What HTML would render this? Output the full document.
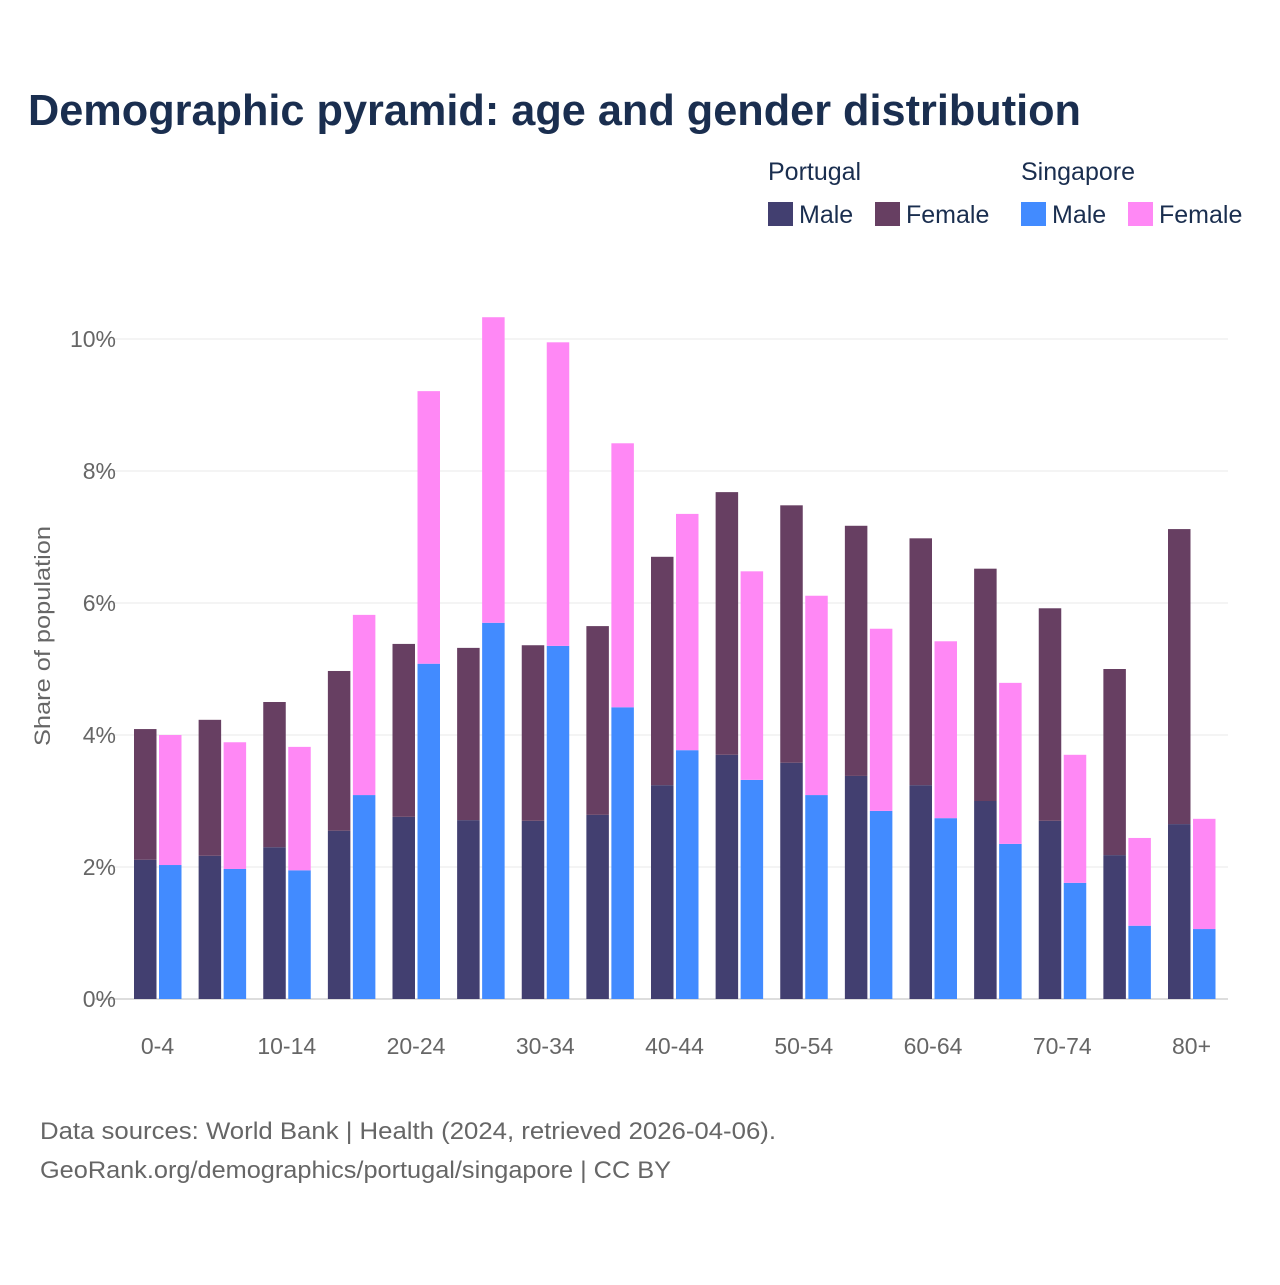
<!DOCTYPE html>
<html><head><meta charset="utf-8"><style>
body{margin:0;background:#fff;font-family:"Liberation Sans",sans-serif}
svg text{font-family:"Liberation Sans",sans-serif}
</style></head><body>
<svg width="1280" height="1280" viewBox="0 0 1280 1280" id="c">
<rect width="1280" height="1280" fill="#fff"/>
<text x="28" y="125" font-size="44" font-weight="bold" fill="#1a2e4f" textLength="1053" lengthAdjust="spacingAndGlyphs">Demographic pyramid: age and gender distribution</text>
<g font-size="25" fill="#1a2e4f">
<text x="768" y="180" fill="#1a2e4f">Portugal</text>
<text x="1021" y="180" fill="#1a2e4f">Singapore</text>
<g><rect x="768" y="202" width="25" height="24" fill="#423f70"/><text x="799" y="223" fill="#1a2e4f">Male</text></g>
<g><rect x="875" y="202" width="25" height="24" fill="#673f62"/><text x="906" y="223" fill="#1a2e4f">Female</text></g>
<g><rect x="1021" y="202" width="25" height="24" fill="#428bff"/><text x="1052" y="223" fill="#1a2e4f">Male</text></g>
<g><rect x="1128" y="202" width="25" height="24" fill="#ff88f5"/><text x="1159" y="223" fill="#1a2e4f">Female</text></g>
</g>
<g id="grid"></g>
<g id="bars"></g>
<g id="xl"></g>
<text transform="translate(50,636) rotate(-90)" text-anchor="middle" font-size="22" fill="#666" textLength="220" lengthAdjust="spacingAndGlyphs">Share of population</text>
<text x="40" y="1139" font-size="24" fill="#666" textLength="736" lengthAdjust="spacingAndGlyphs">Data sources: World Bank | Health (2024, retrieved 2026-04-06).</text>
<text x="40" y="1178" font-size="24" fill="#666" textLength="631" lengthAdjust="spacingAndGlyphs">GeoRank.org/demographics/portugal/singapore | CC BY</text>
</svg>
<script>
const categories=["0-4","5-9","10-14","15-19","20-24","25-29","30-34","35-39","40-44","45-49","50-54","55-59","60-64","65-69","70-74","75-79","80+"];
const ptMale=[2.11,2.17,2.30,2.55,2.76,2.71,2.70,2.79,3.24,3.70,3.58,3.38,3.24,3.00,2.70,2.18,2.65];
const ptFemale=[1.98,2.06,2.20,2.42,2.62,2.61,2.66,2.86,3.46,3.98,3.90,3.79,3.74,3.52,3.22,2.82,4.47];
const sgMale=[2.03,1.97,1.95,3.09,5.08,5.70,5.35,4.42,3.77,3.32,3.09,2.85,2.74,2.35,1.76,1.11,1.06];
const sgFemale=[1.97,1.92,1.87,2.73,4.13,4.63,4.60,4.00,3.58,3.16,3.02,2.76,2.68,2.44,1.94,1.33,1.67];
const yTicks=[0,2,4,6,8,10];
const xLabelIdx=[0,2,4,6,8,10,12,14,16];
const NS="http://www.w3.org/2000/svg";
const y=v=>999-v*66;
const x0=i=>134+i*64.625;
const BW=22.5;
function mk(t,a,p){const e=document.createElementNS(NS,t);for(const k in a)e.setAttribute(k,a[k]);p.appendChild(e);return e;}
const grid=document.getElementById('grid'),bars=document.getElementById('bars'),xl=document.getElementById('xl');
yTicks.forEach(v=>{
  const l=mk('line',{x1:95,x2:1228,y1:y(v),y2:y(v),stroke:v===0?'#ddd':'#e8e8e8','stroke-width':v===0?2:1},grid);
  
  
  const t=mk('text',{x:116,y:y(v)+8,'text-anchor':'end','font-size':23,fill:'#666'},grid);
  t.textContent=v+'%';
  
  
});
function bar(x,v0,v1,fill,name){
  const r=mk('rect',{x:x,y:y(v1),width:BW,height:y(v0)-y(v1),fill:fill},bars);
  
  
}
categories.forEach((c,i)=>{
  const xp=x0(i),xs=xp+BW+2.5;
  bar(xp,0,ptMale[i],'#423f70','bar-portugal-male-'+c);
  bar(xp,ptMale[i],ptMale[i]+ptFemale[i],'#673f62','bar-portugal-female-'+c);
  bar(xs,0,sgMale[i],'#428bff','bar-singapore-male-'+c);
  bar(xs,sgMale[i],sgMale[i]+sgFemale[i],'#ff88f5','bar-singapore-female-'+c);
});
xLabelIdx.forEach(i=>{
  const t=mk('text',{x:x0(i)+BW+1,y:1054,'text-anchor':'middle','font-size':23,fill:'#666'},xl);
  t.textContent=categories[i];
  
  
});
</script>
</body></html>
